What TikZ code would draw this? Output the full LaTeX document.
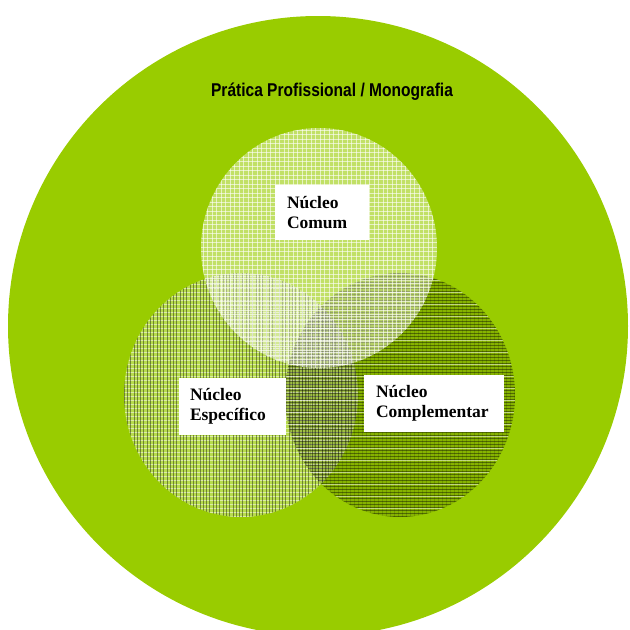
\documentclass[tikz,border=0pt]{standalone}
\usepackage{fontspec}
\setmainfont{Liberation Serif}
\newfontfamily\titulofont{Liberation Sans}[FakeStretch=0.84]
\usetikzlibrary{positioning}

\definecolor{verde}{HTML}{99CC00}

\tikzset{
    caixa/.style={fill=white, inner xsep=0pt, inner ysep=0pt, align=left,
        font=\fontsize{17.5}{20}\selectfont\bfseries},
    titulo/.style={font=\titulofont\fontsize{18.5}{20}\selectfont\bfseries}
}

\begin{document}
\begin{tikzpicture}[x=1pt,y=-1pt]
    % área da figura (coordenadas em pixels)
    \useasboundingbox (0,0) rectangle (630,630);
    \clip (0,0) rectangle (630,630);

    % centros dos círculos
    \coordinate (G) at (318,326);
    \coordinate (C) at (319,248);
    \coordinate (E) at (241,395);
    \coordinate (P) at (400,395);

    % círculo grande: Prática Profissional
    \fill[verde] (G) circle [radius=310pt];

    % círculo do Núcleo Específico (linhas verticais)
    \fill[white, opacity=0.3] (E) ellipse [x radius=117pt, y radius=122pt];
    \begin{scope}
        \clip (E) ellipse [x radius=117pt, y radius=122pt];
        \foreach \y in {272,276,...,520}
            \draw[white, opacity=0.5, line width=0.6pt] (120,\y) -- (362,\y);
        \foreach \x in {124,127.3,...,360}
            \draw[black, opacity=0.4, line width=0.8pt] (\x,270) -- (\x,520);
    \end{scope}

    % círculo do Núcleo Complementar (linhas horizontais)
    \fill[black, opacity=0.12] (P) ellipse [x radius=115pt, y radius=122pt];
    \begin{scope}
        \clip (P) ellipse [x radius=115pt, y radius=122pt];
        \foreach \x in {286,290,...,518}
            \draw[black, opacity=0.15, line width=0.5pt] (\x,270) -- (\x,520);
        \foreach \y in {273,276,...,520}
            \draw[black, opacity=0.4, line width=0.7pt] (282,\y) -- (518,\y);
        \foreach \y in {280,292,...,520}
            \draw[white, opacity=0.5, line width=0.6pt] (282,\y) -- (518,\y);
    \end{scope}

    % círculo do Núcleo Comum (grade branca)
    \fill[white, opacity=0.4] (C) ellipse [x radius=118pt, y radius=120pt];
    \begin{scope}
        \clip (C) ellipse [x radius=118pt, y radius=120pt];
        \foreach \x in {203,207.5,...,440}
            \draw[white, opacity=0.6, line width=0.6pt] (\x,126) -- (\x,370);
        \foreach \y in {130,134.5,...,370}
            \draw[white, opacity=0.6, line width=0.6pt] (199,\y) -- (439,\y);
    \end{scope}

    % título
    \node[titulo] (pratica) at (332,92) {Prática Profissional / Monografia};

    % caixas dos núcleos
    \node[caixa, minimum width=94pt, minimum height=55pt, text width=70pt]
        (comum) at (322,212.5) {Núcleo\\Comum};
    \node[caixa, minimum width=107pt, minimum height=57pt, text width=85pt]
        (especifico) at (232.5,406.5) {Núcleo\\Específico};
    \node[caixa, minimum width=140pt, minimum height=57pt, text width=116pt]
        (complementar) at (434,403.5) {Núcleo\\Complementar};

\end{tikzpicture}
\end{document}
